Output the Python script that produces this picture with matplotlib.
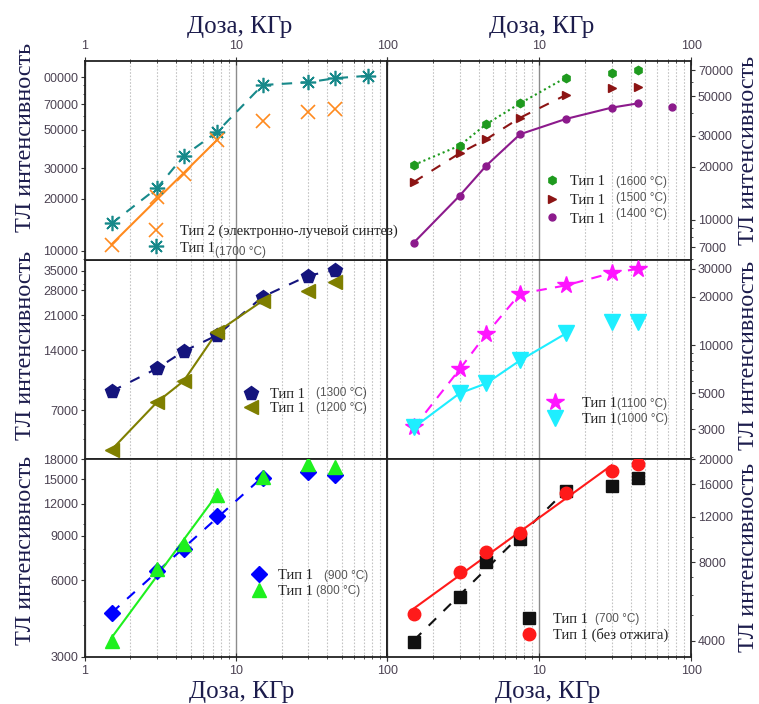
import numpy as np
import matplotlib
matplotlib.use("Agg")
import matplotlib.pyplot as plt
from matplotlib.lines import Line2D
from matplotlib.ticker import FixedLocator, FixedFormatter, LogLocator, NullFormatter

plt.rcParams["font.family"] = ["Liberation Sans", "DejaVu Sans"]

SERIF = ["Liberation Serif", "DejaVu Serif"]
LABEL_C = "#1c1c4c"
TICK_C = "#4b4252"

DOSE = [1.5, 3, 4.5, 7.5, 15, 30, 45, 75]

# ТЛ intensity
t1_1700 = [14400, 23000, 35200, 48500, 90200, 93500, 98600, 102000]
t2_ebs = [10800, 20400, 27700, 43500, 56000, 63300, 65600]
t1_1600 = [20450, 26300, 34800, 45600, 63700, 67500, 70300]
t1_1500 = [16400, 23800, 28600, 37800, 50800, 55800, 56400]
t1_1400 = [7450, 13700, 20300, 30500, 37200, 43100, 45600, 43700]
t1_1300 = [8720, 11350, 13840, 16660, 25960, 33100, 35350]
t1_1200 = [4440, 7700, 9820, 17300, 24800, 27800, 30700]
t1_1100 = [3070, 7070, 11770, 20950, 23600, 28200, 29950]
t1_1000 = [3070, 5010, 5780, 8040, 11830, 13980, 13980]
t1_900 = [4460, 6530, 7940, 10790, 15150, 16020, 15600]
t1_800 = [3480, 6680, 8360, 13030, 15300, 17250, 16750]
t1_700 = [3960, 5900, 8050, 9810, 15100, 15800, 16900]
t1_raw = [5050, 7370, 8790, 10350, 14750, 18040, 19140]

# y ticks per panel
TL_TICKS = [10000, 20000, 30000, 50000, 70000, 100000]
TL_LABELS = ["10000", "20000", "30000", "50000", "70000", "00000"]
TR_TICKS = [7000, 10000, 20000, 30000, 50000, 70000]
ML_TICKS = [7000, 14000, 21000, 28000, 35000]
MR_TICKS = [3000, 5000, 10000, 20000, 30000]
BL_TICKS = [3000, 6000, 9000, 12000, 15000, 18000]
BR_TICKS = [4000, 8000, 12000, 16000, 20000]


def draw(ax, y, color, marker, ms, ls, n, fit=False, mew=1.0, lw=1.5):
    x = DOSE[:len(y)]
    if fit:
        k, b = np.polyfit(np.log10(x[:n]), np.log10(y[:n]), 1)
        xx = np.array([x[0], x[n - 1]])
        ax.plot(xx, 10 ** (k * np.log10(xx) + b), color=color, ls=ls, lw=lw, zorder=2)
    else:
        ax.plot(x[:n], y[:n], color=color, ls=ls, lw=lw, zorder=2)
    ax.plot(x, y, ls="none", marker=marker, ms=ms, color=color, mew=mew, zorder=3)
    return Line2D([], [], ls="none", marker=marker, ms=ms, color=color, mew=mew)


def legend(ax, handles, labels, anchor, pad, spacing, temps):
    leg = ax.legend(handles, labels, loc="upper left", bbox_to_anchor=anchor,
                    frameon=False, borderpad=0, borderaxespad=0, handlelength=1.0,
                    handletextpad=pad, labelspacing=spacing,
                    prop={"family": SERIF, "size": 10.5})
    for t in leg.get_texts():
        t.set_color("#222222")
    # temperature part is set in a smaller sans font next to the legend text
    for i, (txt, gap, dy) in temps.items():
        ax.annotate(txt, xy=(1, 0.5), xycoords=leg.get_texts()[i], xytext=(gap, dy),
                    textcoords="offset points", ha="left", va="center",
                    fontsize=8.5, color="#555555", zorder=10)


def setup(ax, row, col, ylim, yticks, ylabels=None):
    ax.set_xscale("log")
    ax.set_yscale("log")
    ax.set_xlim(1, 100)
    ax.set_ylim(*ylim)
    ax.xaxis.set_major_locator(FixedLocator([1, 10, 100]))
    ax.xaxis.set_major_formatter(FixedFormatter(["1" if col == 0 else "", "10", "100"]))
    ax.xaxis.set_minor_locator(LogLocator(subs=np.arange(2, 10)))
    ax.xaxis.set_minor_formatter(NullFormatter())
    ax.yaxis.set_major_locator(FixedLocator(yticks))
    ax.yaxis.set_major_formatter(FixedFormatter(ylabels or [str(v) for v in yticks]))
    ax.yaxis.set_minor_locator(LogLocator(subs=np.arange(1, 10) / 10, numticks=50))
    ax.yaxis.set_minor_formatter(NullFormatter())
    ax.grid(which="minor", axis="x", color="#c4c4c4", ls=(0, (1.5, 1.5)), lw=0.8)
    ax.grid(which="major", axis="x", color="#8c8c8c", ls="-", lw=1.0)
    for s in ax.spines.values():
        s.set_color("#222222")
        s.set_linewidth(1.3)
    ax.tick_params(axis="both", which="both", labelsize=9, labelcolor=TICK_C, color="#333333")
    ax.tick_params(axis="x", which="major", direction="inout", length=6)
    ax.tick_params(axis="x", which="minor", direction="inout", length=3)
    ax.tick_params(axis="y", which="major", direction="out", length=3, pad=2)
    ax.tick_params(axis="y", which="minor", direction="out", length=1.5)
    ax.tick_params(axis="x", which="both", top=(row == 0), bottom=(row == 2),
                   labeltop=(row == 0), labelbottom=(row == 2), pad=3)
    if col == 1:
        ax.yaxis.tick_right()
        ax.yaxis.set_label_position("right")
    ax.set_ylabel("ТЛ интенсивность", family=SERIF, fontsize=17.5, color=LABEL_C)
    ycen = [[0.617, 0.55], [0.573, 0.52], [0.54, 0.505]][row][col]
    ax.yaxis.set_label_coords(-0.162 if col == 0 else 1.155, ycen)
    if row == 0:
        ax.xaxis.set_label_position("top")
        ax.set_xlabel("Доза, КГр", family=SERIF, fontsize=18, color=LABEL_C)
        ax.xaxis.set_label_coords(0.513 if col == 0 else 0.509, 1.14)
    elif row == 2:
        ax.set_xlabel("Доза, КГр", family=SERIF, fontsize=18, color=LABEL_C)
        ax.xaxis.set_label_coords(0.52 if col == 0 else 0.528, -0.12)


def main():
    fig = plt.figure(figsize=(7.59, 7.04), dpi=100)
    lefts = [0.112, 0.510]
    widths = [0.398, 0.4005]
    bottoms = [0.6307, 0.348, 0.0668]
    heights = [0.2831, 0.2827, 0.2812]
    axs = [[fig.add_axes([lefts[c], bottoms[r], widths[c], heights[r]]) for c in range(2)]
           for r in range(3)]

    # top left (on top so its long legend entry runs into the right panel)
    ax = axs[0][0]
    ax.set_zorder(2)
    setup(ax, 0, 0, (8875, 124500), TL_TICKS, TL_LABELS)
    h1 = draw(ax, t1_1700, "#17898a", (8, 2, 0), 11, (0, (5, 4)), 8, mew=1.2)
    h2 = draw(ax, t2_ebs, "#ff8a1e", "x", 10, "-", 4, fit=True, mew=1.2)
    legend(ax, [h2, h1], ["Тип 2 (электронно-лучевой синтез)", "Тип 1"],
           (0.212, 0.176), 1.1, 0.2, {1: ("(1700 °C)", 0, -3)})

    # top right
    ax = axs[0][1]
    setup(ax, 0, 1, (5940, 79400), TR_TICKS)
    h1 = draw(ax, t1_1600, "#1e9a1e", "h", 6, (0, (1, 1.5)), 5)
    h2 = draw(ax, t1_1500, "#8c1414", ">", 6, (0, (5, 5)), 5)
    h3 = draw(ax, t1_1400, "#8c1a8c", "o", 5, "-", 7)
    legend(ax, [h1, h2, h3], ["Тип 1", "Тип 1", "Тип 1"], (0.518, 0.427), 0.75, 0.38,
           {0: ("(1600 °C)", 8, 0), 1: ("(1500 °C)", 8, 2), 2: ("(1400 °C)", 8, 4)})

    # middle left
    ax = axs[1][0]
    setup(ax, 1, 0, (3990, 39700), ML_TICKS)
    h1 = draw(ax, t1_1300, "#14147d", "p", 10, (0, (5, 5)), 7)
    h2 = draw(ax, t1_1200, "#7f7f00", "<", 10, "-", 5)
    legend(ax, [h1, h2], ["Тип 1", "Тип 1"], (0.527, 0.359), 0.75, 0.07,
           {0: ("(1300 °C)", 8, 1), 1: ("(1200 °C)", 8, 0)})

    # middle right
    ax = axs[1][1]
    setup(ax, 1, 1, (1950, 34000), MR_TICKS)
    h1 = draw(ax, t1_1100, "#ff14ff", "*", 13, (0, (5, 4)), 7)
    h2 = draw(ax, t1_1000, "#1eeeff", "v", 11, "-", 5)
    legend(ax, [h1, h2], ["Тип 1", "Тип 1"], (0.529, 0.311), 1.33, 0.16,
           {0: ("(1100 °C)", 0, 0), 1: ("(1000 °C)", 0, 0)})

    # bottom left
    ax = axs[2][0]
    setup(ax, 2, 0, (3000, 18000), BL_TICKS)
    h1 = draw(ax, t1_900, "#0000ff", "D", 8, (0, (5, 5)), 5, fit=True)
    h2 = draw(ax, t1_800, "#1ef01e", "^", 10, "-", 4, fit=True)
    legend(ax, [h1, h2], ["Тип 1", "Тип 1"], (0.553, 0.443), 0.78, 0.14,
           {0: ("(900 °C)", 8, 0), 1: ("(800 °C)", 2, 0)})

    # bottom right
    ax = axs[2][1]
    setup(ax, 2, 1, (3460, 20000), BR_TICKS)
    h1 = draw(ax, t1_700, "#111111", "s", 8, (0, (5, 5)), 5, fit=True)
    h2 = draw(ax, t1_raw, "#ff1a1a", "o", 9, "-", 6, fit=True)
    legend(ax, [h1, h2], ["Тип 1", "Тип 1 (без отжига)"], (0.444, 0.225), 1.1, 0.14,
           {0: ("(700 °C)", 5, 0)})

    fig.savefig("out.png", dpi=100)


if __name__ == "__main__":
    main()
